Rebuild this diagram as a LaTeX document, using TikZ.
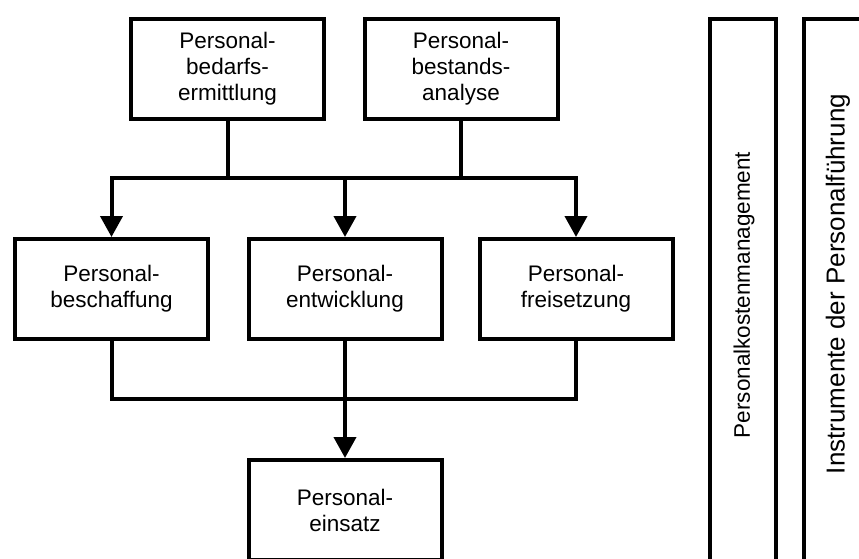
\documentclass[tikz,border=0pt]{standalone}
\usepackage{fontspec}
\setmainfont{Liberation Sans}
\usetikzlibrary{arrows.meta}
\begin{document}
\begin{tikzpicture}[x=1pt,y=-1pt,
  box/.style={draw,line width=4pt,minimum width=193pt,minimum height=100pt,align=center,inner sep=0pt,
    font=\fontsize{22.5}{26}\selectfont},
  bartext/.style={rotate=90,font=\fontsize{22.5}{26}\selectfont},
  conn/.style={line width=4pt},
  arr/.style={line width=4pt,-{Triangle[width=22pt,length=21pt]}}]
\useasboundingbox (0,0) rectangle (859,559);
\node[box] (b1) at (227.5,69) {Personal-\\bedarfs-\\ermittlung};
\node[box] (b2) at (461,69) {Personal-\\bestands-\\analyse};
\node[box] (b3) at (111.5,289) {Personal-\\beschaffung};
\node[box] (b4) at (345,289) {Personal-\\entwicklung};
\node[box] (b5) at (576,289) {Personal-\\freisetzung};
\node[box] (b6) at (345,510) {Personal-\\einsatz};
\coordinate (h1) at (0,178);
\coordinate (h2) at (0,399);
\draw[arr] (b1.south) |- (b3.north |- h1) -- (b3.north);
\draw[arr] (b2.south) |- (b5.north |- h1) -- (b5.north);
\draw[conn] (b1.south |- h1) -- (b2.south |- h1);
\draw[arr] (b4.north |- h1) -- (b4.north);
\draw[conn] (b3.south) |- (b4.south |- h2) -| (b5.south);
\draw[arr] (b4.south) -- (b6.north);
\draw[conn] (710,19) rectangle (776,640);
\draw[conn] (804,19) rectangle (870,640);
\node[bartext] (t1) at (744,295) {Personalkostenmanagement};
\node[bartext,font=\fontsize{26}{30}\selectfont] (t2) at (838,284) {Instrumente der Personalführung};
\end{tikzpicture}
\end{document}
